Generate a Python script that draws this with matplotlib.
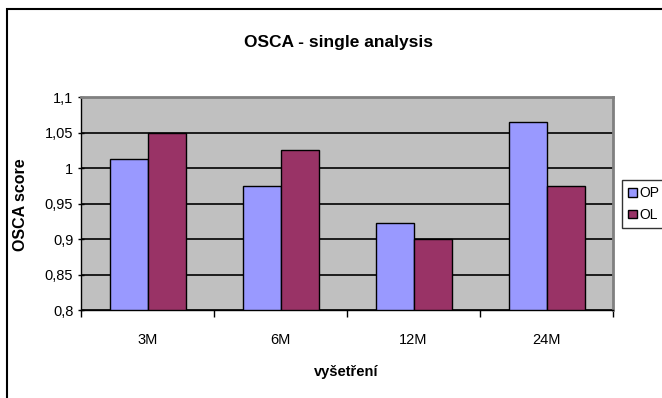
import numpy as np
import matplotlib.pyplot as plt
from matplotlib.patches import Rectangle

# Chart data
categories = ['3M', '6M', '12M', '24M']
op_values = [1.013, 0.975, 0.922, 1.065]
ol_values = [1.05, 1.025, 0.90, 0.975]
y_ticks = [0.8, 0.85, 0.9, 0.95, 1.0, 1.05, 1.1]
y_tick_labels = ['0,8', '0,85', '0,9', '0,95', '1', '1,05', '1,1']

plt.rcParams['font.family'] = ['Liberation Sans', 'DejaVu Sans']

W, H = 662, 398
fig = plt.figure(figsize=(W / 100, H / 100), dpi=100)

# outer frame (cut off at right and bottom like the original)
fig.patches.append(Rectangle((7 / W, -0.1), 1.2, 1 - 9 / H + 0.1, transform=fig.transFigure,
                             fill=False, edgecolor='black', linewidth=1.5))

left, right, top, bottom = 81, 613, 97, 310
ax = fig.add_axes([left / W, 1 - bottom / H, (right - left) / W, (bottom - top) / H])
ax.set_facecolor('#C0C0C0')

x = np.arange(len(categories))
w = 1 / 3.5
ax.bar(x - w / 2, [v - 0.8 for v in op_values], w, bottom=0.8, color='#9999FF',
       edgecolor='black', linewidth=1, label='OP', zorder=3)
ax.bar(x + w / 2, [v - 0.8 for v in ol_values], w, bottom=0.8, color='#993366',
       edgecolor='black', linewidth=1, label='OL', zorder=3)

ax.set_xlim(-0.5, len(categories) - 0.5)
ax.set_ylim(0.8, 1.1)
ax.set_yticks(y_ticks)
ax.set_yticklabels(y_tick_labels, fontsize=10.5)
ax.yaxis.grid(True, color='black', linewidth=1.2, zorder=1)
ax.set_axisbelow(True)

# category labels between boundary ticks
ax.set_xticks(np.arange(-0.5, len(categories)))
ax.set_xticklabels([])
ax.tick_params(axis='x', length=5, width=1, direction='out')
ax.tick_params(axis='y', length=5, width=1, direction='inout', pad=3)
for i, c in enumerate(categories):
    ax.text(i, -0.14, c, transform=ax.get_xaxis_transform(), ha='center', va='center', fontsize=10.5)

for s in ['left', 'bottom']:
    ax.spines[s].set_color('black')
    ax.spines[s].set_linewidth(1)
for s in ['top', 'right']:
    ax.spines[s].set_color('#808080')
    ax.spines[s].set_linewidth(2)

fig.text(339 / W, 1 - 42 / H, 'OSCA - single analysis', ha='center', va='center',
         fontsize=12.5, fontweight='bold')
fig.text(21 / W, 1 - 205 / H, 'OSCA score', ha='center', va='center', rotation=90,
         fontsize=11.5, fontweight='bold')
fig.text(346 / W, 1 - 372 / H, 'vyšetření', ha='center', va='center',
         fontsize=10.5, fontweight='bold')

leg = fig.legend(loc='upper left', bbox_to_anchor=(622 / W, 1 - 180 / H), fontsize=10,
                 frameon=True, fancybox=False, edgecolor='black', handlelength=0.6,
                 handleheight=0.6, handletextpad=0.2, borderpad=0.45, labelspacing=0.55,
                 borderaxespad=0)
leg.get_frame().set_linewidth(1)

fig.savefig('out.png', dpi=100)
